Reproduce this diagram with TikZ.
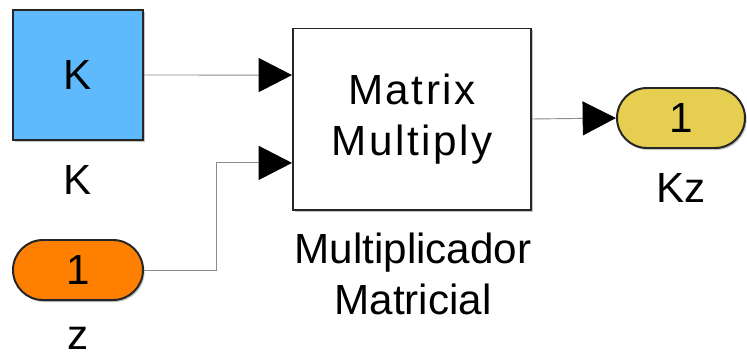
\documentclass[tikz,border=0pt]{standalone}
\usepackage{fontspec}
\setmainfont{Liberation Sans}
\newfontfamily\widefont[LetterSpace=6]{Liberation Sans}
\usetikzlibrary{arrows.meta, positioning, calc, shadows}
\tikzset{>={Triangle[length=1cm,width=1.02cm,fill=black,color=black]}}

\begin{document}
\begin{tikzpicture}[x=0.03cm, y=-0.03cm,
    font=\fontsize{36}{43}\selectfont,
    blk/.style={draw=black!85, line width=1.7pt, drop shadow={shadow xshift=0.05cm, shadow yshift=-0.06cm, opacity=0.45}},
    pill/.style={blk, minimum width=3.9cm, minimum height=1.8cm, rounded corners=0.9cm, inner sep=0pt},
    sig/.style={draw=black!45, line width=0.8pt}]
    \useasboundingbox (0,0) rectangle (747,360);
    % blocks
    \node[blk, fill={rgb,255:red,94;green,186;blue,253}, minimum width=3.9cm, minimum height=3.9cm] (k) at (78,75){K};
    \node[pill, fill={rgb,255:red,255;green,128;blue,0}] (z) at (78,270){1};
    \node[blk, fill=white, minimum width=7.14cm, minimum height=5.43cm, align=center, font=\fontsize{36}{43}\widefont] (mult) at (412,119){Matrix\\Multiply};
    \node[pill, fill={rgb,255:red,230;green,207;blue,80}, minimum width=3.84cm] (kz) at (681,118){1};
    % labels
    \node (klab) at (78,180){K};
    \node (zlab) at (78,338){z};
    \node[align=center, font=\fontsize{36}{44}\selectfont] (multlab) at (413,274){Multiplicador\\Matricial};
    \node (kzlab) at (681,188){Kz};
    % ports and lines
    \coordinate (in1) at ($(mult.north west)!0.26!(mult.south west)$);
    \coordinate (in2) at ($(mult.north west)!0.74!(mult.south west)$);
    \draw[sig, ->] (k.east) -- (in1);
    \draw[sig, ->] (z.east) -- (216,270) |- (in2);
    \draw[sig, ->] (mult.east) -- (kz.west);
\end{tikzpicture}
\end{document}
